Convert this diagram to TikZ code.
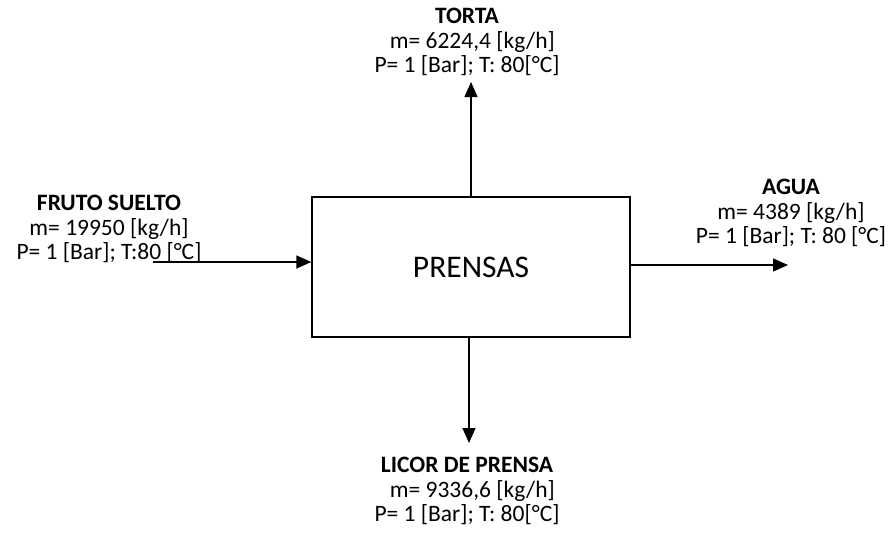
\documentclass[tikz,border=0pt]{standalone}
\usepackage{fontspec}
\setmainfont{Carlito}
\usetikzlibrary{arrows.meta}
\begin{document}
\begin{tikzpicture}[x=1pt,y=-1pt,
  flow/.style={line width=1.3pt,-{Triangle[length=15pt,width=13pt]}},
  unit/.style={draw,line width=1.3pt,minimum width=318pt,minimum height=140pt,inner sep=0pt,
    font=\fontsize{31.5}{34}\selectfont},
  stream/.style={align=center,inner sep=0pt,font=\fontsize{23.5}{24.5}\selectfont}]
\useasboundingbox (0,0) rectangle (891,535);
% process unit
\node[unit] (prensas) at (471,267) {PRENSAS};
% stream end points
\coordinate (fin)  at (153,262);
\coordinate (fout) at (788,265);
\coordinate (ftop) at (471,82);
\coordinate (fbot) at (469,443);
% streams
\draw[flow] (fin) -- (fin -| prensas.west);
\draw[flow] (prensas.east |- fout) -- (fout);
\draw[flow] (prensas.north -| ftop) -- (ftop);
\draw[flow] (prensas.south -| fbot) -- (fbot);
% stream labels
\node[stream] (lin) at (109,229) {\textbf{FRUTO SUELTO}\\m= 19950 [kg/h]\\P= 1 [Bar]; T:80 [°C]};
\node[stream] (ltop) at (467,42) {\textbf{TORTA}\\\ \ m= 6224,4 [kg/h]\\P= 1 [Bar]; T: 80[°C]};
\node[stream] (lout) at (791,213) {\textbf{AGUA}\\m= 4389 [kg/h]\\P= 1 [Bar]; T: 80 [°C]};
\node[stream] (lbot) at (467,491) {\textbf{LICOR DE PRENSA}\\\ \ m= 9336,6 [kg/h]\\P= 1 [Bar]; T: 80[°C]};
\end{tikzpicture}
\end{document}
